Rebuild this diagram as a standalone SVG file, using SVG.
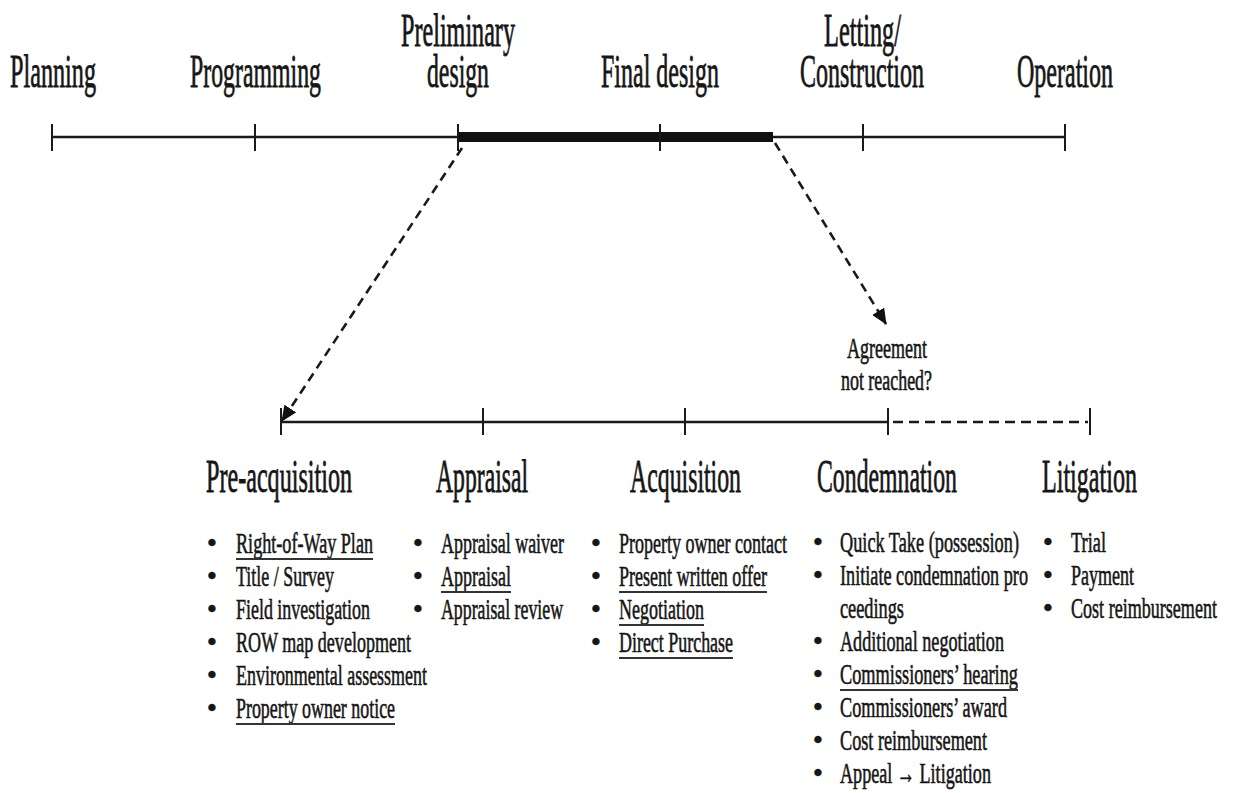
<svg xmlns="http://www.w3.org/2000/svg" width="1233" height="793" viewBox="0 0 1233 793">
<defs>
<style>
text{font-family:"Liberation Serif","Times New Roman",serif;fill:#161616;stroke:#161616;stroke-width:0.6}
.ph{font-size:46px;stroke-width:0.8}
.it{font-size:29.5px}
.bu{font-size:29.5px;text-anchor:middle;stroke-width:0.4}
.ag{font-size:29px}
.ln{stroke:#1a1a1a;stroke-width:2.6;fill:none}
.tk{stroke:#1a1a1a;stroke-width:2;fill:none}
.ul{stroke:#333;stroke-width:2;fill:none}
.da{stroke:#1a1a1a;stroke-width:2.6;fill:none;stroke-dasharray:9 6}
</style>
<marker id="ah" markerUnits="userSpaceOnUse" markerWidth="16" markerHeight="14" refX="15" refY="7" orient="auto">
<path d="M0,0 L16,7 L0,14 Z" fill="#111"/>
</marker>
</defs>
<rect width="1233" height="793" fill="#fff"/>

<g id="connectors">
  <line class="ln" x1="52" y1="137" x2="1065" y2="137"/>
  <rect x="458" y="132" width="315" height="10" fill="#111"/>
  <line class="tk" x1="52" y1="124" x2="52" y2="151"/>
  <line class="tk" x1="255" y1="124" x2="255" y2="151"/>
  <line class="tk" x1="458" y1="124" x2="458" y2="151"/>
  <line class="tk" x1="660" y1="124" x2="660" y2="151"/>
  <line class="tk" x1="863" y1="124" x2="863" y2="151"/>
  <line class="tk" x1="1065" y1="124" x2="1065" y2="151"/>
  <line class="da" x1="462" y1="148" x2="282" y2="421" marker-end="url(#ah)"/>
  <line class="da" x1="775" y1="143" x2="886" y2="324" marker-end="url(#ah)"/>
  <line class="ln" x1="280" y1="422" x2="888" y2="422"/>
  <line class="da" x1="893" y1="422" x2="1088" y2="422" style="stroke-dasharray:10 6"/>
  <line class="tk" x1="281" y1="408" x2="281" y2="435"/>
  <line class="tk" x1="483" y1="408" x2="483" y2="435"/>
  <line class="tk" x1="685" y1="408" x2="685" y2="435"/>
  <line class="tk" x1="888" y1="408" x2="888" y2="435"/>
  <line class="tk" x1="1090" y1="408" x2="1090" y2="435"/>
</g>

<g id="stage-planning"><text class="ph" transform="translate(10,87) scale(0.52,1)" textLength="165.4" lengthAdjust="spacingAndGlyphs">Planning</text></g>
<g id="stage-programming"><text class="ph" transform="translate(190,87) scale(0.52,1)" textLength="251.9" lengthAdjust="spacingAndGlyphs">Programming</text></g>
<g id="stage-preliminary">
  <text class="ph" transform="translate(401,0) scale(0.52,1)"><tspan x="0" y="46" textLength="219.2" lengthAdjust="spacingAndGlyphs">Preliminary</tspan><tspan x="50" y="87" textLength="119.2" lengthAdjust="spacingAndGlyphs">design</tspan></text>
</g>
<g id="stage-final"><text class="ph" transform="translate(601,87) scale(0.52,1)" textLength="226.9" lengthAdjust="spacingAndGlyphs">Final design</text></g>
<g id="stage-letting">
  <text class="ph" transform="translate(800,0) scale(0.52,1)"><tspan x="46.2" y="46" textLength="148.1" lengthAdjust="spacingAndGlyphs">Letting/</tspan><tspan x="0" y="87" textLength="238.5" lengthAdjust="spacingAndGlyphs">Construction</tspan></text>
</g>
<g id="stage-operation"><text class="ph" transform="translate(1017,87) scale(0.52,1)" textLength="184.6" lengthAdjust="spacingAndGlyphs">Operation</text></g>

<g id="agreement-note">
  <text class="ag" transform="translate(847,358) scale(0.62,1)" textLength="129" lengthAdjust="spacingAndGlyphs">Agreement</text>
  <text class="ag" transform="translate(841,390) scale(0.62,1)" textLength="146.8" lengthAdjust="spacingAndGlyphs">not reached?</text>
</g>

<g id="phase-preacquisition">
  <text class="ph" transform="translate(206,492) scale(0.52,1)" textLength="280.8" lengthAdjust="spacingAndGlyphs">Pre-acquisition</text>
  <text class="bu" x="212" y="553">•</text><text class="it" transform="translate(236,553) scale(0.61,1)" textLength="224.6" lengthAdjust="spacingAndGlyphs">Right-of-Way Plan</text>
  <line class="ul" x1="236" y1="559" x2="373" y2="559"/>
  <text class="bu" x="212" y="586">•</text><text class="it" transform="translate(236,586) scale(0.61,1)" textLength="160.7" lengthAdjust="spacingAndGlyphs">Title / Survey</text>
  <text class="bu" x="212" y="619">•</text><text class="it" transform="translate(236,619) scale(0.61,1)" textLength="219.7" lengthAdjust="spacingAndGlyphs">Field investigation</text>
  <text class="bu" x="212" y="652">•</text><text class="it" transform="translate(236,652) scale(0.61,1)" textLength="286.9" lengthAdjust="spacingAndGlyphs">ROW map development</text>
  <text class="bu" x="212" y="685">•</text><text class="it" transform="translate(236,685) scale(0.61,1)" textLength="313.1" lengthAdjust="spacingAndGlyphs">Environmental assessment</text>
  <text class="bu" x="212" y="718">•</text><text class="it" transform="translate(236,718) scale(0.61,1)" textLength="260.7" lengthAdjust="spacingAndGlyphs">Property owner notice</text>
  <line class="ul" x1="236" y1="724" x2="395" y2="724"/>
</g>

<g id="phase-appraisal">
  <text class="ph" transform="translate(436,492) scale(0.52,1)" textLength="176.9" lengthAdjust="spacingAndGlyphs">Appraisal</text>
  <text class="bu" x="418" y="553">•</text><text class="it" transform="translate(441,553) scale(0.61,1)" textLength="201.6" lengthAdjust="spacingAndGlyphs">Appraisal waiver</text>
  <text class="bu" x="418" y="586">•</text><text class="it" transform="translate(441,586) scale(0.61,1)" textLength="114.8" lengthAdjust="spacingAndGlyphs">Appraisal</text>
  <line class="ul" x1="441" y1="592" x2="511" y2="592"/>
  <text class="bu" x="418" y="619">•</text><text class="it" transform="translate(441,619) scale(0.61,1)" textLength="200" lengthAdjust="spacingAndGlyphs">Appraisal review</text>
</g>

<g id="phase-acquisition">
  <text class="ph" transform="translate(630,492) scale(0.52,1)" textLength="213.5" lengthAdjust="spacingAndGlyphs">Acquisition</text>
  <text class="bu" x="596" y="553">•</text><text class="it" transform="translate(619,553) scale(0.61,1)" textLength="275.4" lengthAdjust="spacingAndGlyphs">Property owner contact</text>
  <text class="bu" x="596" y="586">•</text><text class="it" transform="translate(619,586) scale(0.61,1)" textLength="242.6" lengthAdjust="spacingAndGlyphs">Present written offer</text>
  <line class="ul" x1="619" y1="592" x2="767" y2="592"/>
  <text class="bu" x="596" y="619">•</text><text class="it" transform="translate(619,619) scale(0.61,1)" textLength="139.3" lengthAdjust="spacingAndGlyphs">Negotiation</text>
  <line class="ul" x1="619" y1="625" x2="704" y2="625"/>
  <text class="bu" x="596" y="652">•</text><text class="it" transform="translate(619,652) scale(0.61,1)" textLength="186.9" lengthAdjust="spacingAndGlyphs">Direct Purchase</text>
  <line class="ul" x1="619" y1="658" x2="733" y2="658"/>
</g>

<g id="phase-condemnation">
  <text class="ph" transform="translate(817,492) scale(0.52,1)" textLength="269.2" lengthAdjust="spacingAndGlyphs">Condemnation</text>
  <text class="bu" x="818" y="552">•</text><text class="it" transform="translate(840,552) scale(0.61,1)" textLength="293.4" lengthAdjust="spacingAndGlyphs">Quick Take (possession)</text>
  <text class="bu" x="818" y="585">•</text><text class="it" transform="translate(840,585) scale(0.61,1)" textLength="308.2" lengthAdjust="spacingAndGlyphs">Initiate condemnation pro</text>
  <text class="it" transform="translate(840,618) scale(0.61,1)" textLength="104.9" lengthAdjust="spacingAndGlyphs">ceedings</text>
  <text class="bu" x="818" y="651">•</text><text class="it" transform="translate(840,651) scale(0.61,1)" textLength="268.9" lengthAdjust="spacingAndGlyphs">Additional negotiation</text>
  <text class="bu" x="818" y="684">•</text><text class="it" transform="translate(840,684) scale(0.61,1)" textLength="291.8" lengthAdjust="spacingAndGlyphs">Commissioners’ hearing</text>
  <line class="ul" x1="840" y1="690" x2="1018" y2="690"/>
  <text class="bu" x="818" y="717">•</text><text class="it" transform="translate(840,717) scale(0.61,1)" textLength="273.8" lengthAdjust="spacingAndGlyphs">Commissioners’ award</text>
  <text class="bu" x="818" y="750">•</text><text class="it" transform="translate(840,750) scale(0.61,1)" textLength="241" lengthAdjust="spacingAndGlyphs">Cost reimbursement</text>
  <text class="bu" x="818" y="783">•</text><text class="it" transform="translate(840,783) scale(0.61,1)" textLength="247.5" lengthAdjust="spacingAndGlyphs">Appeal → Litigation</text>
</g>

<g id="phase-litigation">
  <text class="ph" transform="translate(1042,492) scale(0.52,1)" textLength="182.7" lengthAdjust="spacingAndGlyphs">Litigation</text>
  <text class="bu" x="1048" y="552">•</text><text class="it" transform="translate(1071,552) scale(0.61,1)" textLength="57.4" lengthAdjust="spacingAndGlyphs">Trial</text>
  <text class="bu" x="1048" y="585">•</text><text class="it" transform="translate(1071,585) scale(0.61,1)" textLength="103.3" lengthAdjust="spacingAndGlyphs">Payment</text>
  <text class="bu" x="1048" y="618">•</text><text class="it" transform="translate(1071,618) scale(0.61,1)" textLength="239.3" lengthAdjust="spacingAndGlyphs">Cost reimbursement</text>
</g>
</svg>
